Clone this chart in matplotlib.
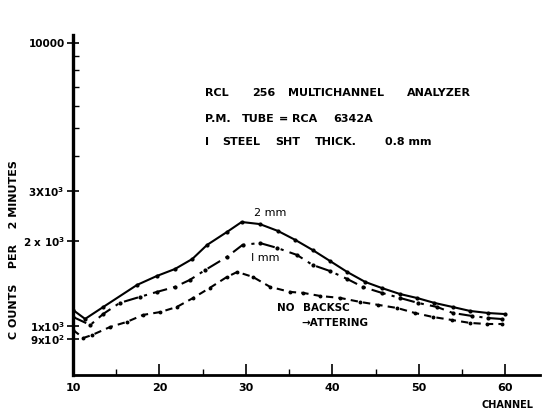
import matplotlib
matplotlib.use("Agg")
import matplotlib.pyplot as plt
from matplotlib.ticker import FixedLocator, NullFormatter

plt.rcParams['font.family'] = ['DejaVu Sans']
plt.rcParams['mathtext.default'] = 'regular'

# ---- data ----
ch_2mm = [10, 11.4, 13.5, 17.4, 19.7, 21.8, 23.8, 25.5, 27.8, 29.5, 31.6, 33.7, 35.7,
          37.7, 39.7, 41.7, 43.8, 45.7, 47.8, 49.8, 51.8, 53.9, 55.9, 58.0, 59.9]
val_2mm = [1139, 1059, 1167, 1396, 1502, 1590, 1725, 1933, 2148, 2330, 2291, 2166, 2014,
           1856, 1698, 1552, 1430, 1362, 1297, 1255, 1206, 1167, 1130, 1111, 1102]

ch_1mm = [10, 12.0, 13.5, 15.4, 17.7, 19.7, 21.8, 23.5, 25.3, 27.8, 29.6, 31.6, 33.6,
          35.9, 37.7, 39.7, 41.7, 43.5, 45.7, 47.8, 49.9, 52.1, 53.9, 56.1, 58.0, 59.6]
val_1mm = [1076, 1008, 1103, 1206, 1266, 1319, 1374, 1454, 1577, 1754, 1933, 1964, 1887,
           1782, 1643, 1564, 1466, 1374, 1309, 1256, 1206, 1167, 1112, 1085, 1067, 1058]

ch_nob = [10, 11.2, 12.2, 14.3, 16.2, 18.1, 20.1, 22.0, 23.9, 25.8, 27.8, 29.0, 30.8,
          32.8, 35.1, 36.6, 38.6, 40.9, 43.2, 45.3, 47.5, 49.5, 51.6, 53.8, 55.9, 57.9, 59.6]
val_nob = [968, 907, 929, 992, 1033, 1094, 1120, 1167, 1256, 1362, 1490, 1552, 1490,
           1374, 1319, 1309, 1276, 1256, 1216, 1187, 1157, 1112, 1076, 1050, 1025, 1016, 1016]

x_ticks = [10, 20, 30, 40, 50, 60]
x_minor = [15, 25, 35, 45, 55]
y_ticks = [900, 1000, 2000, 3000, 10000]
y_labels = [r"9x10$^2$", r"1x10$^3$", r"2 x 10$^3$", r"3X10$^3$", "10000"]
y_minor = [4000, 5000, 6000, 7000, 8000, 9000]

header_1 = ["RCL", "256", "MULTICHANNEL", "ANALYZER"]
header_2 = ["P.M.", "TUBE", "=", "RCA", "6342A"]
header_3 = ["I", "STEEL", "SHT", "THICK.", "0.8 mm"]

W, H = 546, 413
fig = plt.figure(figsize=(W / 100, H / 100), dpi=100)
ax = fig.add_axes([73 / W, 1 - 375 / H, (540 - 73) / W, (375 - 35) / H])
ax.set_yscale('log')
ax.set_xlim(10, 64)
ax.set_ylim(671, 10668)

ax.plot(ch_2mm, val_2mm, color='black', lw=1.5, marker='o', ms=2.0)
ax.plot(ch_1mm, val_1mm, color='black', lw=1.5, marker='o', ms=2.0,
        dashes=[7, 3, 1.5, 3])
ax.plot(ch_nob, val_nob, color='black', lw=1.5, marker='o', ms=1.8,
        dashes=[3.5, 2.5])

for s in ['top', 'right']:
    ax.spines[s].set_visible(False)
ax.spines['left'].set_linewidth(2.4)
ax.spines['bottom'].set_linewidth(2.0)

ax.xaxis.set_major_locator(FixedLocator(x_ticks))
ax.xaxis.set_minor_locator(FixedLocator(x_minor))
ax.set_xticklabels([str(v) for v in x_ticks])
ax.tick_params(axis='x', which='major', direction='in', length=8, width=1.2,
               labelsize=8, pad=6)
ax.tick_params(axis='x', which='minor', direction='in', length=4, width=1.0)

ax.yaxis.set_major_locator(FixedLocator(y_ticks))
ax.yaxis.set_minor_locator(FixedLocator(y_minor))
ax.yaxis.set_minor_formatter(NullFormatter())
ax.set_yticklabels(y_labels)
ax.tick_params(axis='y', which='major', direction='inout', length=8, width=1.2,
               labelsize=7.5, pad=2)
ax.tick_params(axis='y', which='minor', direction='in', length=4, width=1.0)
for lbl in ax.get_yticklabels():
    lbl.set_fontweight('bold')
for lbl in ax.get_xticklabels():
    lbl.set_fontweight('bold')

ax.set_ylabel("C OUNTS    PER    2 MINUTES", fontsize=8, fontweight='bold')
ax.yaxis.set_label_coords(-0.115, 0.37)
fig.text(507 / W, 1 - 405 / H, "CHANNEL", fontsize=7, fontweight='bold',
         ha='center', va='center')

# header lettering, word by word (pixel positions of each word's left edge)
for words, xs, ypix in [(header_1, [205, 252, 288, 407], 93),
                        (header_2, [205, 242, 279, 292, 333], 119),
                        (header_3, [205, 222, 275, 315, 385], 142)]:
    for w, xp in zip(words, xs):
        fig.text(xp / W, 1 - ypix / H, w, fontsize=8, fontweight='bold',
                 ha='left', va='center')

ax.text(32.8, 2507, "2 mm", fontsize=8, ha='center', va='center')
ax.text(32.2, 1739, "I mm", fontsize=8, ha='center', va='center')
ax.text(33.6, 1158, "NO", fontsize=7.5, fontweight='bold', ha='left', va='center')
ax.text(36.6, 1158, "BACKSC", fontsize=7.5, fontweight='bold', ha='left', va='center')
ax.text(36.4, 1025, "\u2192ATTERING", fontsize=7.5, fontweight='bold',
        ha='left', va='center')

fig.savefig("out.png", dpi=100)
